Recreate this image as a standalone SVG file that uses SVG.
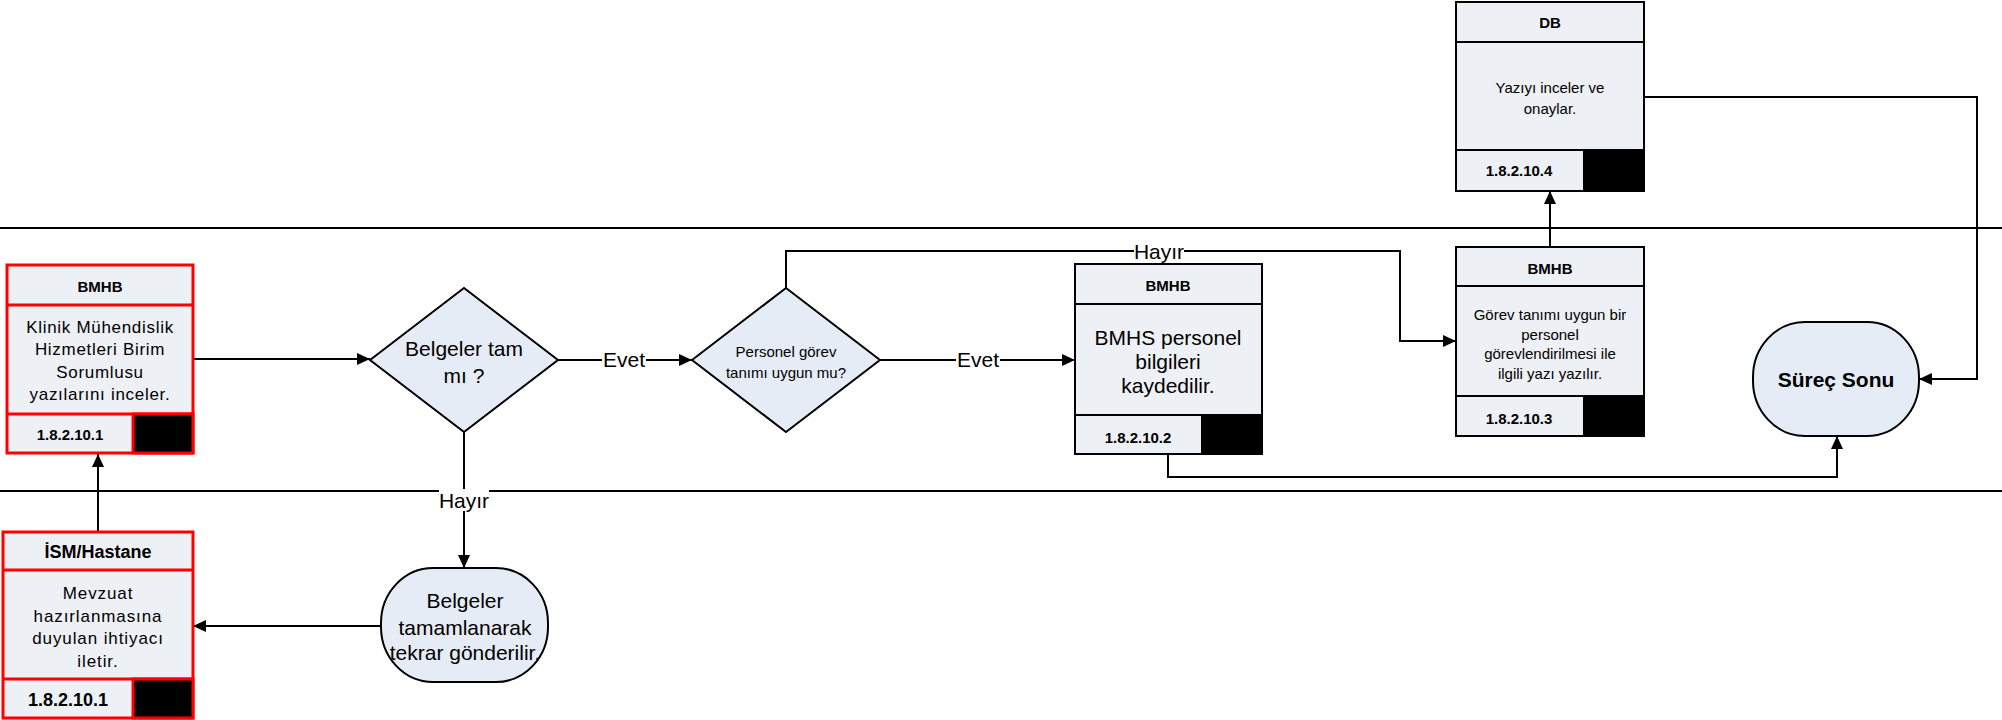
<svg xmlns="http://www.w3.org/2000/svg" width="2002" height="720" viewBox="0 0 2002 720">
<style>
text{font-family:"Liberation Sans",Arial,sans-serif;fill:#000;text-anchor:middle;dominant-baseline:central}
.hd{font-weight:bold;font-size:15px}
.hd18{font-weight:bold;font-size:18px}
.num{font-weight:bold;font-size:15px}
.num18{font-weight:bold;font-size:18px}
.b17{font-size:17px;letter-spacing:0.7px}
.b17w{font-size:17px;letter-spacing:0.9px}
.b15{font-size:15px}
.b21{font-size:21px}
.box{fill:#EDF0F5;stroke:#000;stroke-width:2}
.rbox{fill:#EDF0F5;stroke:#FF0000;stroke-width:3}
.blk{fill:#000}
.dia{fill:#E6ECF6;stroke:#000;stroke-width:2}
.lane{stroke:#000;stroke-width:2}
.con{fill:none;stroke:#000;stroke-width:2;marker-end:url(#ah)}
.lbl{font-size:21px}
.lbg{fill:#fff}
</style>
<defs>
<marker id="ah" markerWidth="13" markerHeight="12" refX="13" refY="6" orient="auto" markerUnits="userSpaceOnUse">
<path d="M0,0 L13,6 L0,12 z" fill="#000"/>
</marker>
</defs>
<g id="lanes">
<line class="lane" x1="0" y1="228" x2="2002" y2="228"/>
<line class="lane" x1="0" y1="491" x2="2002" y2="491"/>
</g>
<g id="connectors">
<path class="con" d="M193,359 L370,359"/>
<path class="con" d="M558,360 L692,360"/>
<path class="con" d="M880,360 L1075,360"/>
<path class="con" d="M786,288 L786,251 L1400,251 L1400,341 L1456,341"/>
<path class="con" d="M464,432 L464,568"/>
<path class="con" d="M381,626 L193,626"/>
<path class="con" d="M98,531 L98,454"/>
<path class="con" d="M1168,454 L1168,477 L1837,477 L1837,436"/>
<path class="con" d="M1550,247 L1550,191"/>
<path class="con" d="M1644,97 L1977,97 L1977,379 L1919,379"/>
<rect class="lbg" x="602" y="348" width="44" height="22"/>
<text class="lbl" x="624" y="359">Evet</text>
<rect class="lbg" x="956" y="348" width="44" height="22"/>
<text class="lbl" x="978" y="359">Evet</text>
<rect class="lbg" x="1134" y="240" width="50" height="22"/>
<text class="lbl" x="1159" y="251">Hayır</text>
<rect class="lbg" x="439" y="489" width="50" height="22"/>
<text class="lbl" x="464" y="500">Hayır</text>
</g>
<g id="n1">
<rect class="rbox" x="7" y="265" width="186" height="188"/>
<line x1="7" y1="305" x2="193" y2="305" stroke="#FF0000" stroke-width="3"/>
<line x1="7" y1="414" x2="193" y2="414" stroke="#FF0000" stroke-width="3"/>
<rect class="blk" x="133" y="414" width="60" height="39"/>
<rect x="133" y="414" width="60" height="39" fill="none" stroke="#FF0000" stroke-width="3"/>
<text class="hd" x="100" y="286">BMHB</text>
<text class="b17" x="100" y="327">Klinik Mühendislik</text>
<text class="b17" x="100" y="349">Hizmetleri Birim</text>
<text class="b17" x="100" y="372">Sorumlusu</text>
<text class="b17" x="100" y="394">yazılarını inceler.</text>
<text class="num" x="70" y="434">1.8.2.10.1</text>
</g>
<g id="n0">
<rect class="rbox" x="3" y="532" width="190" height="186"/>
<line x1="3" y1="570" x2="193" y2="570" stroke="#FF0000" stroke-width="3"/>
<line x1="3" y1="679" x2="193" y2="679" stroke="#FF0000" stroke-width="3"/>
<rect class="blk" x="133" y="679" width="60" height="39"/>
<rect x="133" y="679" width="60" height="39" fill="none" stroke="#FF0000" stroke-width="3"/>
<text class="hd18" x="98" y="552">İSM/Hastane</text>
<text class="b17w" x="98" y="593">Mevzuat</text>
<text class="b17w" x="98" y="616">hazırlanmasına</text>
<text class="b17w" x="98" y="638">duyulan ihtiyacı</text>
<text class="b17w" x="98" y="661">iletir.</text>
<text class="num18" x="68" y="700">1.8.2.10.1</text>
</g>
<g id="d1">
<polygon class="dia" points="370,360 464,288 558,360 464,432"/>
<text class="b21" x="464" y="348">Belgeler tam</text>
<text class="b21" x="464" y="375">mı ?</text>
</g>
<g id="d2">
<polygon class="dia" points="692,360 786,288 880,360 786,432"/>
<text class="b15" x="786" y="351">Personel görev</text>
<text class="b15" x="786" y="372">tanımı uygun mu?</text>
</g>
<g id="t1">
<rect class="dia" x="381" y="568" width="167" height="114" rx="52" ry="55"/>
<text class="b21" x="465" y="600">Belgeler</text>
<text class="b21" x="465" y="627">tamamlanarak</text>
<text class="b21" x="465" y="652">tekrar gönderilir.</text>
</g>
<g id="n2">
<rect class="box" x="1075" y="264" width="187" height="190"/>
<line x1="1075" y1="304" x2="1262" y2="304" stroke="#000" stroke-width="2"/>
<line x1="1075" y1="415" x2="1262" y2="415" stroke="#000" stroke-width="2"/>
<rect class="blk" x="1201" y="415" width="61" height="39"/>
<text class="hd" x="1168" y="285">BMHB</text>
<text class="b21" x="1168" y="337">BMHS personel</text>
<text class="b21" x="1168" y="361">bilgileri</text>
<text class="b21" x="1168" y="385">kaydedilir.</text>
<text class="num" x="1138" y="437">1.8.2.10.2</text>
</g>
<g id="n3">
<rect class="box" x="1456" y="247" width="188" height="189"/>
<line x1="1456" y1="286" x2="1644" y2="286" stroke="#000" stroke-width="2"/>
<line x1="1456" y1="396" x2="1644" y2="396" stroke="#000" stroke-width="2"/>
<rect class="blk" x="1583" y="396" width="61" height="40"/>
<text class="hd" x="1550" y="268">BMHB</text>
<text class="b15" x="1550" y="314">Görev tanımı uygun bir</text>
<text class="b15" x="1550" y="334">personel</text>
<text class="b15" x="1550" y="353">görevlendirilmesi ile</text>
<text class="b15" x="1550" y="373">ilgili yazı yazılır.</text>
<text class="num" x="1519" y="418">1.8.2.10.3</text>
</g>
<g id="n4">
<rect class="box" x="1456" y="2" width="188" height="189"/>
<line x1="1456" y1="42" x2="1644" y2="42" stroke="#000" stroke-width="2"/>
<line x1="1456" y1="150" x2="1644" y2="150" stroke="#000" stroke-width="2"/>
<rect class="blk" x="1583" y="150" width="61" height="41"/>
<text class="hd" x="1550" y="22">DB</text>
<text class="b15" x="1550" y="87">Yazıyı inceler ve</text>
<text class="b15" x="1550" y="108">onaylar.</text>
<text class="num" x="1519" y="170">1.8.2.10.4</text>
</g>
<g id="end">
<rect class="dia" x="1753" y="322" width="166" height="114" rx="52" ry="55"/>
<text class="b21" x="1836" y="379" font-weight="bold">Süreç Sonu</text>
</g>
</svg>
